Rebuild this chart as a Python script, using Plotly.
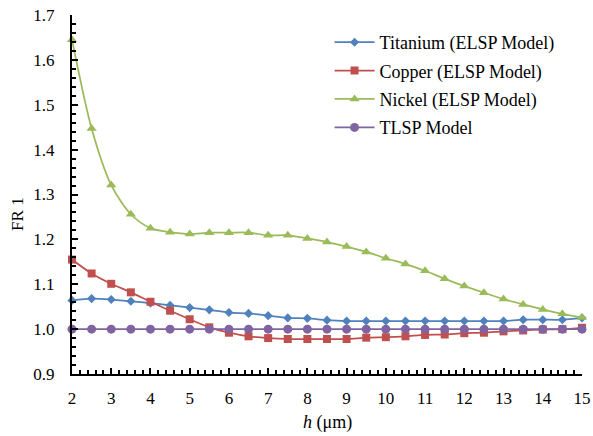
import plotly.graph_objects as go

h = [2, 2.5, 3, 3.5, 4, 4.5, 5, 5.5, 6, 6.5, 7, 7.5, 8, 8.5, 9, 9.5, 10,
     10.5, 11, 11.5, 12, 12.5, 13, 13.5, 14, 14.5, 15]

titanium = [1.064, 1.068, 1.066, 1.062, 1.058, 1.053, 1.048, 1.043, 1.037, 1.035,
            1.030, 1.025, 1.024, 1.020, 1.018, 1.018, 1.018, 1.018, 1.018, 1.018,
            1.018, 1.018, 1.018, 1.021, 1.021, 1.021, 1.025]
copper = [1.155, 1.124, 1.101, 1.082, 1.061, 1.041, 1.022, 1.004, 0.992, 0.984,
          0.980, 0.978, 0.978, 0.978, 0.978, 0.981, 0.982, 0.984, 0.987, 0.988,
          0.991, 0.992, 0.995, 0.997, 0.999, 1.000, 1.003]
nickel = [1.645, 1.447, 1.321, 1.256, 1.225, 1.216, 1.212, 1.215, 1.215, 1.215,
          1.209, 1.209, 1.202, 1.194, 1.184, 1.172, 1.158, 1.145, 1.130, 1.112,
          1.096, 1.081, 1.067, 1.055, 1.044, 1.034, 1.026]
tlsp = [1.0] * len(h)

names = ["Titanium (ELSP Model)", "Copper (ELSP Model)", "Nickel (ELSP Model)", "TLSP Model"]
colors = ["#4F81BD", "#C0504D", "#9BBB59", "#8064A2"]
symbols = ["diamond", "square", "triangle-up", "circle"]
sizes = [7, 8, 9, 9]
series = [titanium, copper, nickel, tlsp]

FONT = "Liberation Serif"

L, R, T, B = 72, 11, 15, 62
W, H = 593, 436
PW = W - L - R

fig = go.Figure()
for i, (nm, c, s, sz, ys) in enumerate(zip(names, colors, symbols, sizes, series)):
    fig.add_trace(go.Scatter(
        x=h, y=ys, name=nm, mode="lines+markers",
        line=dict(color=c, width=1.75, shape="spline", smoothing=0.8),
        marker=dict(symbol=s, size=sz, color=c),
        cliponaxis=False, legendgroup=str(i),
    ))

fig.update_layout(
    width=W, height=H,
    margin=dict(l=L, r=R, t=T, b=B, autoexpand=False),
    paper_bgcolor="white", plot_bgcolor="white",
    font=dict(family=FONT, size=17, color="#000000"),
    showlegend=True,
    legend=dict(x=0.505, y=0.975, xanchor="left", yanchor="top",
                bgcolor="rgba(0,0,0,0)", font=dict(family=FONT, size=18),
                tracegroupgap=2, itemwidth=40),
    xaxis=dict(range=[2, 15], dtick=1, tick0=2, showline=True, linecolor="black",
               linewidth=2, showgrid=False, zeroline=False, ticks="inside",
               ticklen=6, tickwidth=2, tickcolor="black", ticklabelstandoff=8,
               automargin=False,
               minor=dict(dtick=0.2, ticks="inside", ticklen=4, tickwidth=1.5,
                          tickcolor="black", showgrid=False),
               tickfont=dict(family=FONT, size=17)),
    yaxis=dict(range=[0.9, 1.7], dtick=0.1, tickformat=".1f", showline=True,
               linecolor="black", linewidth=2, showgrid=False, zeroline=False,
               ticks="inside", ticklen=6, tickwidth=2, tickcolor="black",
               ticklabelstandoff=12, automargin=False,
               minor=dict(dtick=0.02, ticks="inside", ticklen=4, tickwidth=1.5,
                          tickcolor="black", showgrid=False),
               tickfont=dict(family=FONT, size=17)),
    annotations=[
        dict(text="FR 1", x=-(L - 18) / PW, y=0.446, xref="paper", yref="paper",
             textangle=-90, showarrow=False, font=dict(family=FONT, size=17),
             xanchor="center", yanchor="middle"),
        dict(text="<i>h</i> (μm)", x=0.5, y=-0.135, xref="paper", yref="paper",
             showarrow=False, font=dict(family=FONT, size=18),
             xanchor="center", yanchor="middle"),
    ],
)

fig.write_html("out.html")
